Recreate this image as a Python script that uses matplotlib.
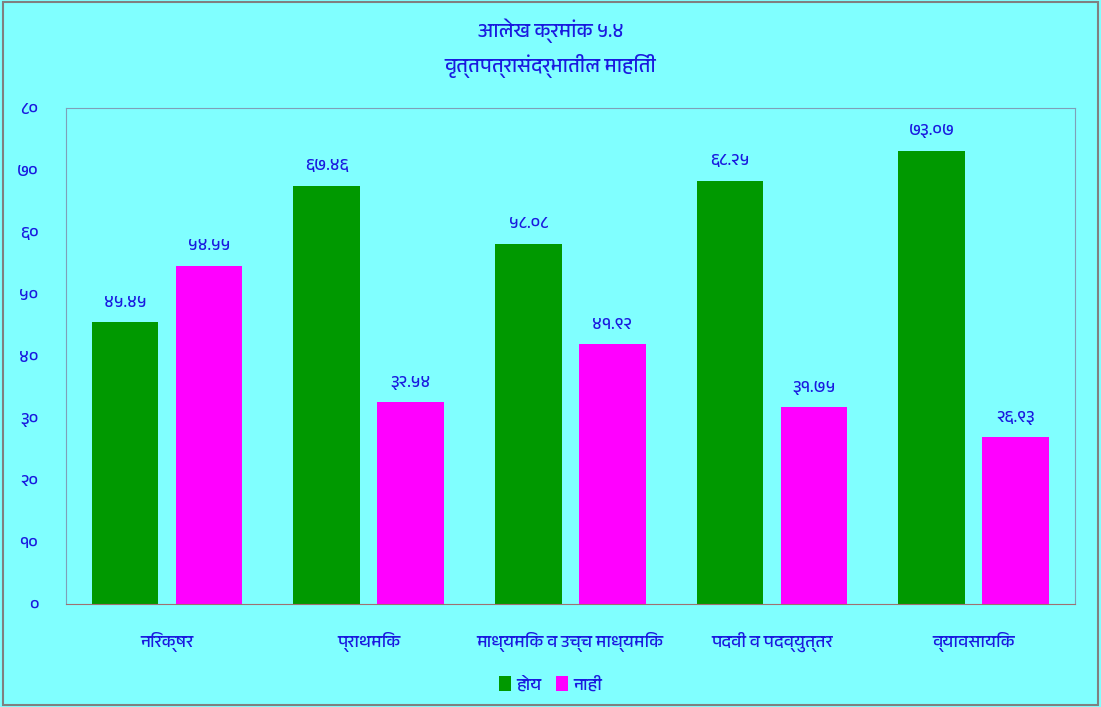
import matplotlib
matplotlib.use("Agg")
import matplotlib.pyplot as plt
import numpy as np
from matplotlib import font_manager

categories = ["निरक्षर", "प्राथमिक", "माध्यमिक व उच्च माध्यमिक", "पदवी व पदव्युत्तर", "व्यावसायिक"]
yes_vals = [45.45, 67.46, 58.08, 68.25, 73.07]
no_vals = [54.55, 32.54, 41.92, 31.75, 26.93]
yes_labels = ["४५.४५", "६७.४६", "५८.०८", "६८.२५", "७३.०७"]
no_labels = ["५४.५५", "३२.५४", "४१.९२", "३१.७५", "२६.९३"]
yticks = [0, 10, 20, 30, 40, 50, 60, 70, 80]
ytick_labels = ["०", "१०", "२०", "३०", "४०", "५०", "६०", "७०", "८०"]
series_names = ["होय", "नाही"]

# look for any installed font that has Devanagari glyphs
fams = []
for f in font_manager.fontManager.ttflist:
    if "Devanagari" in f.name or "Mangal" in f.name or "Lohit" in f.name:
        fams.append(f.name)
plt.rcParams['font.family'] = list(dict.fromkeys(fams)) + ['DejaVu Sans']

blue = "#1a1adf"
bg = "#80ffff"

fig = plt.figure(figsize=(11.01, 7.07), dpi=100, facecolor=bg)
ax = fig.add_axes([0.060, 0.1457, 0.916, 0.7015])
ax.set_facecolor(bg)

x = np.arange(len(categories))
w = 0.33
b1 = ax.bar(x - 0.208, yes_vals, w, color="#009900")
b2 = ax.bar(x + 0.208, no_vals, w, color="#ff00ff")

for bars, labs in [(b1, yes_labels), (b2, no_labels)]:
    for r, lab in zip(bars, labs):
        ax.annotate(lab, (r.get_x() + r.get_width() / 2, r.get_height()),
                    xytext=(0, 9), textcoords="offset points",
                    ha="center", va="bottom", color=blue, fontsize=12.5)

ax.set_xlim(-0.5, len(categories) - 0.5)
ax.set_ylim(0, 80)
ax.set_yticks(yticks)
ax.set_yticklabels(ytick_labels, color=blue, fontsize=12.5)
ax.set_xticks(x)
ax.set_xticklabels(categories, color=blue, fontsize=12.5)
ax.tick_params(axis="y", length=0, pad=20)
ax.tick_params(axis="x", length=0, pad=20)
for s in ax.spines.values():
    s.set_color("#7f9fb8")
ax.spines["bottom"].set_color("#a07070")

fig.text(0.5, 0.957, "आलेख क्रमांक ५.४", ha="center", va="center", color=blue, fontsize=14.5)
fig.text(0.5, 0.906, "वृत्तपत्रासंदर्भातील माहिती", ha="center", va="center", color=blue, fontsize=14.5)

leg = fig.legend([b1, b2], series_names, loc="center", bbox_to_anchor=(0.5, 0.032),
                 ncol=2, frameon=False, fontsize=12.5, handlelength=0.7, handleheight=0.9,
                 handletextpad=0.3, columnspacing=0.8)
for t in leg.get_texts():
    t.set_color(blue)

fig.patches.append(plt.Rectangle((0.003, 0.003), 0.994, 0.994, transform=fig.transFigure,
                                 fill=False, edgecolor="#808080", linewidth=1.5))

fig.savefig("out.png", dpi=100, facecolor=bg)
